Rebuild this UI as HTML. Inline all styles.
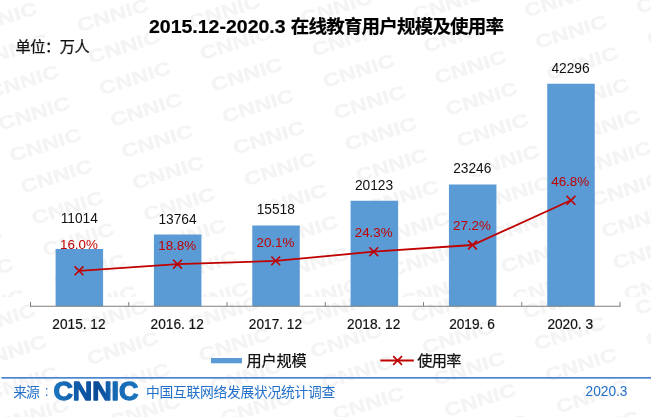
<!DOCTYPE html>
<html lang="zh-CN"><head><meta charset="utf-8"><title>2015.12-2020.3 在线教育用户规模及使用率</title>
<style>html,body{margin:0;padding:0;background:#fff}body{width:651px;height:417px;overflow:hidden}svg{display:block}.wm{font-family:"Liberation Sans",sans-serif;font-weight:bold;font-size:18.5px;fill:#f4f4f4;stroke:#f4f4f4;stroke-width:0.3px}.v{font-family:"Liberation Sans",sans-serif;font-size:13.75px;fill:#111;text-anchor:middle}.r{font-family:"Liberation Sans",sans-serif;font-size:13.4px;fill:#C00000;text-anchor:middle}.x{font-family:"Liberation Sans","Noto Sans CJK SC",sans-serif;font-size:14.1px;fill:#111;stroke:#111;stroke-width:0.2px}.h{font-family:"Liberation Sans","Noto Sans CJK SC",sans-serif;font-size:15.2px;fill:#111;stroke:#111;stroke-width:0.25px}.t{font-family:"Liberation Sans","Noto Sans CJK SC",sans-serif;font-weight:bold;font-size:17.8px;fill:#000;stroke:#000;stroke-width:0.2px}.f{font-family:"Liberation Sans","Noto Sans CJK SC",sans-serif;font-size:13.8px;fill:#2270C8}</style></head><body>
<svg width="651" height="417" viewBox="0 0 651 417">
<defs><linearGradient id="lg" x1="0" y1="0" x2="1" y2="0"><stop offset="0" stop-color="#1B75BF"/><stop offset="0.3" stop-color="#0F5AA8"/><stop offset="0.5" stop-color="#0B4A98"/><stop offset="0.72" stop-color="#1568B4"/><stop offset="1" stop-color="#1B75BF"/></linearGradient></defs>
<rect width="651" height="417" fill="#fff"/>
<defs><clipPath id="ct"><rect x="0" y="0" width="651" height="297"/></clipPath><clipPath id="cb"><rect x="0" y="297" width="651" height="120"/></clipPath></defs>
<g class="wm" clip-path="url(#ct)">
<text transform="translate(-44.4 211.4) rotate(-17.5)" x="-37" y="6.5" textLength="74" lengthAdjust="spacingAndGlyphs">CNNIC</text>
<text transform="translate(-33.4 242.9) rotate(-17.5)" x="-37" y="6.5" textLength="74" lengthAdjust="spacingAndGlyphs">CNNIC</text>
<text transform="translate(-22.3 274.4) rotate(-17.5)" x="-37" y="6.5" textLength="74" lengthAdjust="spacingAndGlyphs">CNNIC</text>
<text transform="translate(-11.2 305.9) rotate(-17.5)" x="-37" y="6.5" textLength="74" lengthAdjust="spacingAndGlyphs">CNNIC</text>
<text transform="translate(-10.0 -12.8) rotate(-17.5)" x="-37" y="6.5" textLength="74" lengthAdjust="spacingAndGlyphs">CNNIC</text>
<text transform="translate(1.0 18.7) rotate(-17.5)" x="-37" y="6.5" textLength="74" lengthAdjust="spacingAndGlyphs">CNNIC</text>
<text transform="translate(12.1 50.2) rotate(-17.5)" x="-37" y="6.5" textLength="74" lengthAdjust="spacingAndGlyphs">CNNIC</text>
<text transform="translate(23.1 81.7) rotate(-17.5)" x="-37" y="6.5" textLength="74" lengthAdjust="spacingAndGlyphs">CNNIC</text>
<text transform="translate(34.2 113.2) rotate(-17.5)" x="-37" y="6.5" textLength="74" lengthAdjust="spacingAndGlyphs">CNNIC</text>
<text transform="translate(45.3 144.7) rotate(-17.5)" x="-37" y="6.5" textLength="74" lengthAdjust="spacingAndGlyphs">CNNIC</text>
<text transform="translate(56.3 176.2) rotate(-17.5)" x="-37" y="6.5" textLength="74" lengthAdjust="spacingAndGlyphs">CNNIC</text>
<text transform="translate(67.4 207.7) rotate(-17.5)" x="-37" y="6.5" textLength="74" lengthAdjust="spacingAndGlyphs">CNNIC</text>
<text transform="translate(78.4 239.2) rotate(-17.5)" x="-37" y="6.5" textLength="74" lengthAdjust="spacingAndGlyphs">CNNIC</text>
<text transform="translate(89.5 270.7) rotate(-17.5)" x="-37" y="6.5" textLength="74" lengthAdjust="spacingAndGlyphs">CNNIC</text>
<text transform="translate(100.6 302.2) rotate(-17.5)" x="-37" y="6.5" textLength="74" lengthAdjust="spacingAndGlyphs">CNNIC</text>
<text transform="translate(101.8 -16.5) rotate(-17.5)" x="-37" y="6.5" textLength="74" lengthAdjust="spacingAndGlyphs">CNNIC</text>
<text transform="translate(112.8 15.0) rotate(-17.5)" x="-37" y="6.5" textLength="74" lengthAdjust="spacingAndGlyphs">CNNIC</text>
<text transform="translate(123.9 46.5) rotate(-17.5)" x="-37" y="6.5" textLength="74" lengthAdjust="spacingAndGlyphs">CNNIC</text>
<text transform="translate(134.9 78.0) rotate(-17.5)" x="-37" y="6.5" textLength="74" lengthAdjust="spacingAndGlyphs">CNNIC</text>
<text transform="translate(146.0 109.5) rotate(-17.5)" x="-37" y="6.5" textLength="74" lengthAdjust="spacingAndGlyphs">CNNIC</text>
<text transform="translate(157.1 141.0) rotate(-17.5)" x="-37" y="6.5" textLength="74" lengthAdjust="spacingAndGlyphs">CNNIC</text>
<text transform="translate(168.1 172.5) rotate(-17.5)" x="-37" y="6.5" textLength="74" lengthAdjust="spacingAndGlyphs">CNNIC</text>
<text transform="translate(179.2 204.0) rotate(-17.5)" x="-37" y="6.5" textLength="74" lengthAdjust="spacingAndGlyphs">CNNIC</text>
<text transform="translate(190.2 235.5) rotate(-17.5)" x="-37" y="6.5" textLength="74" lengthAdjust="spacingAndGlyphs">CNNIC</text>
<text transform="translate(201.3 267.0) rotate(-17.5)" x="-37" y="6.5" textLength="74" lengthAdjust="spacingAndGlyphs">CNNIC</text>
<text transform="translate(212.4 298.5) rotate(-17.5)" x="-37" y="6.5" textLength="74" lengthAdjust="spacingAndGlyphs">CNNIC</text>
<text transform="translate(213.6 -20.2) rotate(-17.5)" x="-37" y="6.5" textLength="74" lengthAdjust="spacingAndGlyphs">CNNIC</text>
<text transform="translate(224.6 11.3) rotate(-17.5)" x="-37" y="6.5" textLength="74" lengthAdjust="spacingAndGlyphs">CNNIC</text>
<text transform="translate(235.7 42.8) rotate(-17.5)" x="-37" y="6.5" textLength="74" lengthAdjust="spacingAndGlyphs">CNNIC</text>
<text transform="translate(246.7 74.3) rotate(-17.5)" x="-37" y="6.5" textLength="74" lengthAdjust="spacingAndGlyphs">CNNIC</text>
<text transform="translate(257.8 105.8) rotate(-17.5)" x="-37" y="6.5" textLength="74" lengthAdjust="spacingAndGlyphs">CNNIC</text>
<text transform="translate(268.9 137.3) rotate(-17.5)" x="-37" y="6.5" textLength="74" lengthAdjust="spacingAndGlyphs">CNNIC</text>
<text transform="translate(279.9 168.8) rotate(-17.5)" x="-37" y="6.5" textLength="74" lengthAdjust="spacingAndGlyphs">CNNIC</text>
<text transform="translate(291.0 200.3) rotate(-17.5)" x="-37" y="6.5" textLength="74" lengthAdjust="spacingAndGlyphs">CNNIC</text>
<text transform="translate(302.0 231.8) rotate(-17.5)" x="-37" y="6.5" textLength="74" lengthAdjust="spacingAndGlyphs">CNNIC</text>
<text transform="translate(313.1 263.3) rotate(-17.5)" x="-37" y="6.5" textLength="74" lengthAdjust="spacingAndGlyphs">CNNIC</text>
<text transform="translate(324.2 294.8) rotate(-17.5)" x="-37" y="6.5" textLength="74" lengthAdjust="spacingAndGlyphs">CNNIC</text>
<text transform="translate(325.4 -23.9) rotate(-17.5)" x="-37" y="6.5" textLength="74" lengthAdjust="spacingAndGlyphs">CNNIC</text>
<text transform="translate(336.4 7.6) rotate(-17.5)" x="-37" y="6.5" textLength="74" lengthAdjust="spacingAndGlyphs">CNNIC</text>
<text transform="translate(347.5 39.1) rotate(-17.5)" x="-37" y="6.5" textLength="74" lengthAdjust="spacingAndGlyphs">CNNIC</text>
<text transform="translate(358.5 70.6) rotate(-17.5)" x="-37" y="6.5" textLength="74" lengthAdjust="spacingAndGlyphs">CNNIC</text>
<text transform="translate(369.6 102.1) rotate(-17.5)" x="-37" y="6.5" textLength="74" lengthAdjust="spacingAndGlyphs">CNNIC</text>
<text transform="translate(380.7 133.6) rotate(-17.5)" x="-37" y="6.5" textLength="74" lengthAdjust="spacingAndGlyphs">CNNIC</text>
<text transform="translate(391.7 165.1) rotate(-17.5)" x="-37" y="6.5" textLength="74" lengthAdjust="spacingAndGlyphs">CNNIC</text>
<text transform="translate(402.8 196.6) rotate(-17.5)" x="-37" y="6.5" textLength="74" lengthAdjust="spacingAndGlyphs">CNNIC</text>
<text transform="translate(413.8 228.1) rotate(-17.5)" x="-37" y="6.5" textLength="74" lengthAdjust="spacingAndGlyphs">CNNIC</text>
<text transform="translate(424.9 259.6) rotate(-17.5)" x="-37" y="6.5" textLength="74" lengthAdjust="spacingAndGlyphs">CNNIC</text>
<text transform="translate(436.0 291.1) rotate(-17.5)" x="-37" y="6.5" textLength="74" lengthAdjust="spacingAndGlyphs">CNNIC</text>
<text transform="translate(448.2 3.9) rotate(-17.5)" x="-37" y="6.5" textLength="74" lengthAdjust="spacingAndGlyphs">CNNIC</text>
<text transform="translate(459.3 35.4) rotate(-17.5)" x="-37" y="6.5" textLength="74" lengthAdjust="spacingAndGlyphs">CNNIC</text>
<text transform="translate(470.3 66.9) rotate(-17.5)" x="-37" y="6.5" textLength="74" lengthAdjust="spacingAndGlyphs">CNNIC</text>
<text transform="translate(481.4 98.4) rotate(-17.5)" x="-37" y="6.5" textLength="74" lengthAdjust="spacingAndGlyphs">CNNIC</text>
<text transform="translate(492.5 129.9) rotate(-17.5)" x="-37" y="6.5" textLength="74" lengthAdjust="spacingAndGlyphs">CNNIC</text>
<text transform="translate(503.5 161.4) rotate(-17.5)" x="-37" y="6.5" textLength="74" lengthAdjust="spacingAndGlyphs">CNNIC</text>
<text transform="translate(514.6 192.9) rotate(-17.5)" x="-37" y="6.5" textLength="74" lengthAdjust="spacingAndGlyphs">CNNIC</text>
<text transform="translate(525.6 224.4) rotate(-17.5)" x="-37" y="6.5" textLength="74" lengthAdjust="spacingAndGlyphs">CNNIC</text>
<text transform="translate(536.7 255.9) rotate(-17.5)" x="-37" y="6.5" textLength="74" lengthAdjust="spacingAndGlyphs">CNNIC</text>
<text transform="translate(547.8 287.4) rotate(-17.5)" x="-37" y="6.5" textLength="74" lengthAdjust="spacingAndGlyphs">CNNIC</text>
<text transform="translate(558.8 318.9) rotate(-17.5)" x="-37" y="6.5" textLength="74" lengthAdjust="spacingAndGlyphs">CNNIC</text>
<text transform="translate(560.0 0.2) rotate(-17.5)" x="-37" y="6.5" textLength="74" lengthAdjust="spacingAndGlyphs">CNNIC</text>
<text transform="translate(571.1 31.7) rotate(-17.5)" x="-37" y="6.5" textLength="74" lengthAdjust="spacingAndGlyphs">CNNIC</text>
<text transform="translate(582.1 63.2) rotate(-17.5)" x="-37" y="6.5" textLength="74" lengthAdjust="spacingAndGlyphs">CNNIC</text>
<text transform="translate(593.2 94.7) rotate(-17.5)" x="-37" y="6.5" textLength="74" lengthAdjust="spacingAndGlyphs">CNNIC</text>
<text transform="translate(604.3 126.2) rotate(-17.5)" x="-37" y="6.5" textLength="74" lengthAdjust="spacingAndGlyphs">CNNIC</text>
<text transform="translate(615.3 157.7) rotate(-17.5)" x="-37" y="6.5" textLength="74" lengthAdjust="spacingAndGlyphs">CNNIC</text>
<text transform="translate(626.4 189.2) rotate(-17.5)" x="-37" y="6.5" textLength="74" lengthAdjust="spacingAndGlyphs">CNNIC</text>
<text transform="translate(637.4 220.7) rotate(-17.5)" x="-37" y="6.5" textLength="74" lengthAdjust="spacingAndGlyphs">CNNIC</text>
<text transform="translate(648.5 252.2) rotate(-17.5)" x="-37" y="6.5" textLength="74" lengthAdjust="spacingAndGlyphs">CNNIC</text>
<text transform="translate(659.6 283.7) rotate(-17.5)" x="-37" y="6.5" textLength="74" lengthAdjust="spacingAndGlyphs">CNNIC</text>
<text transform="translate(670.6 315.2) rotate(-17.5)" x="-37" y="6.5" textLength="74" lengthAdjust="spacingAndGlyphs">CNNIC</text>
<text transform="translate(671.8 -3.5) rotate(-17.5)" x="-37" y="6.5" textLength="74" lengthAdjust="spacingAndGlyphs">CNNIC</text>
<text transform="translate(682.9 28.0) rotate(-17.5)" x="-37" y="6.5" textLength="74" lengthAdjust="spacingAndGlyphs">CNNIC</text>
<text transform="translate(693.9 59.5) rotate(-17.5)" x="-37" y="6.5" textLength="74" lengthAdjust="spacingAndGlyphs">CNNIC</text>
</g>
<g class="wm" clip-path="url(#cb)">
<text transform="translate(-11.3 288.7) rotate(-17.5)" x="-37" y="6.5" textLength="74" lengthAdjust="spacingAndGlyphs">CNNIC</text>
<text transform="translate(-0.3 320.2) rotate(-17.5)" x="-37" y="6.5" textLength="74" lengthAdjust="spacingAndGlyphs">CNNIC</text>
<text transform="translate(10.8 351.7) rotate(-17.5)" x="-37" y="6.5" textLength="74" lengthAdjust="spacingAndGlyphs">CNNIC</text>
<text transform="translate(21.9 383.2) rotate(-17.5)" x="-37" y="6.5" textLength="74" lengthAdjust="spacingAndGlyphs">CNNIC</text>
<text transform="translate(32.9 414.7) rotate(-17.5)" x="-37" y="6.5" textLength="74" lengthAdjust="spacingAndGlyphs">CNNIC</text>
<text transform="translate(100.5 285.0) rotate(-17.5)" x="-37" y="6.5" textLength="74" lengthAdjust="spacingAndGlyphs">CNNIC</text>
<text transform="translate(111.5 316.5) rotate(-17.5)" x="-37" y="6.5" textLength="74" lengthAdjust="spacingAndGlyphs">CNNIC</text>
<text transform="translate(122.6 348.0) rotate(-17.5)" x="-37" y="6.5" textLength="74" lengthAdjust="spacingAndGlyphs">CNNIC</text>
<text transform="translate(133.7 379.5) rotate(-17.5)" x="-37" y="6.5" textLength="74" lengthAdjust="spacingAndGlyphs">CNNIC</text>
<text transform="translate(144.7 411.0) rotate(-17.5)" x="-37" y="6.5" textLength="74" lengthAdjust="spacingAndGlyphs">CNNIC</text>
<text transform="translate(212.3 281.3) rotate(-17.5)" x="-37" y="6.5" textLength="74" lengthAdjust="spacingAndGlyphs">CNNIC</text>
<text transform="translate(223.3 312.8) rotate(-17.5)" x="-37" y="6.5" textLength="74" lengthAdjust="spacingAndGlyphs">CNNIC</text>
<text transform="translate(234.4 344.3) rotate(-17.5)" x="-37" y="6.5" textLength="74" lengthAdjust="spacingAndGlyphs">CNNIC</text>
<text transform="translate(245.5 375.8) rotate(-17.5)" x="-37" y="6.5" textLength="74" lengthAdjust="spacingAndGlyphs">CNNIC</text>
<text transform="translate(256.5 407.3) rotate(-17.5)" x="-37" y="6.5" textLength="74" lengthAdjust="spacingAndGlyphs">CNNIC</text>
<text transform="translate(267.6 438.8) rotate(-17.5)" x="-37" y="6.5" textLength="74" lengthAdjust="spacingAndGlyphs">CNNIC</text>
<text transform="translate(324.1 277.6) rotate(-17.5)" x="-37" y="6.5" textLength="74" lengthAdjust="spacingAndGlyphs">CNNIC</text>
<text transform="translate(335.1 309.1) rotate(-17.5)" x="-37" y="6.5" textLength="74" lengthAdjust="spacingAndGlyphs">CNNIC</text>
<text transform="translate(346.2 340.6) rotate(-17.5)" x="-37" y="6.5" textLength="74" lengthAdjust="spacingAndGlyphs">CNNIC</text>
<text transform="translate(357.3 372.1) rotate(-17.5)" x="-37" y="6.5" textLength="74" lengthAdjust="spacingAndGlyphs">CNNIC</text>
<text transform="translate(368.3 403.6) rotate(-17.5)" x="-37" y="6.5" textLength="74" lengthAdjust="spacingAndGlyphs">CNNIC</text>
<text transform="translate(379.4 435.1) rotate(-17.5)" x="-37" y="6.5" textLength="74" lengthAdjust="spacingAndGlyphs">CNNIC</text>
<text transform="translate(435.9 273.9) rotate(-17.5)" x="-37" y="6.5" textLength="74" lengthAdjust="spacingAndGlyphs">CNNIC</text>
<text transform="translate(446.9 305.4) rotate(-17.5)" x="-37" y="6.5" textLength="74" lengthAdjust="spacingAndGlyphs">CNNIC</text>
<text transform="translate(458.0 336.9) rotate(-17.5)" x="-37" y="6.5" textLength="74" lengthAdjust="spacingAndGlyphs">CNNIC</text>
<text transform="translate(469.1 368.4) rotate(-17.5)" x="-37" y="6.5" textLength="74" lengthAdjust="spacingAndGlyphs">CNNIC</text>
<text transform="translate(480.1 399.9) rotate(-17.5)" x="-37" y="6.5" textLength="74" lengthAdjust="spacingAndGlyphs">CNNIC</text>
<text transform="translate(491.2 431.4) rotate(-17.5)" x="-37" y="6.5" textLength="74" lengthAdjust="spacingAndGlyphs">CNNIC</text>
<text transform="translate(558.7 301.7) rotate(-17.5)" x="-37" y="6.5" textLength="74" lengthAdjust="spacingAndGlyphs">CNNIC</text>
<text transform="translate(569.8 333.2) rotate(-17.5)" x="-37" y="6.5" textLength="74" lengthAdjust="spacingAndGlyphs">CNNIC</text>
<text transform="translate(580.9 364.7) rotate(-17.5)" x="-37" y="6.5" textLength="74" lengthAdjust="spacingAndGlyphs">CNNIC</text>
<text transform="translate(591.9 396.2) rotate(-17.5)" x="-37" y="6.5" textLength="74" lengthAdjust="spacingAndGlyphs">CNNIC</text>
<text transform="translate(603.0 427.7) rotate(-17.5)" x="-37" y="6.5" textLength="74" lengthAdjust="spacingAndGlyphs">CNNIC</text>
<text transform="translate(670.5 298.0) rotate(-17.5)" x="-37" y="6.5" textLength="74" lengthAdjust="spacingAndGlyphs">CNNIC</text>
<text transform="translate(681.6 329.5) rotate(-17.5)" x="-37" y="6.5" textLength="74" lengthAdjust="spacingAndGlyphs">CNNIC</text>
<text transform="translate(692.7 361.0) rotate(-17.5)" x="-37" y="6.5" textLength="74" lengthAdjust="spacingAndGlyphs">CNNIC</text>
</g>
<text class="t" x="149" y="32.6" style="font-size:19px" textLength="142" lengthAdjust="spacingAndGlyphs" xml:space="preserve">2015.12-2020.3 </text>
<text class="t" x="290.8" y="33.1" style="font-size:18.5px" textLength="213.2" lengthAdjust="spacing">在线教育用户规模及使用率</text>
<text class="h" x="15.6" y="52.2" textLength="74.2" lengthAdjust="spacing">单位：万人</text>
<rect x="55.60" y="249.00" width="47.50" height="57.25" fill="#5B9BD5"/>
<rect x="153.93" y="234.50" width="47.50" height="71.75" fill="#5B9BD5"/>
<rect x="252.26" y="225.50" width="47.50" height="80.75" fill="#5B9BD5"/>
<rect x="350.59" y="200.75" width="47.50" height="105.50" fill="#5B9BD5"/>
<rect x="448.92" y="184.50" width="47.50" height="121.75" fill="#5B9BD5"/>
<rect x="547.25" y="83.75" width="47.50" height="222.50" fill="#5B9BD5"/>
<path d="M30.00 306.25 H620.50" stroke="#7f7f7f" stroke-width="1" fill="none"/>
<path d="M30.50 306.25 v-4.2 M128.75 306.25 v-4.2 M227.00 306.25 v-4.2 M325.25 306.25 v-4.2 M423.50 306.25 v-4.2 M521.75 306.25 v-4.2 M620.00 306.25 v-4.2 " stroke="#7f7f7f" stroke-width="1" fill="none"/>
<polyline points="79.00,270.80 177.50,264.20 275.75,260.90 373.75,251.70 472.50,245.00 571.00,200.30" fill="none" stroke="#C00000" stroke-width="1.8"/>
<path d="M74.60 266.40 l8.80 8.80 M74.60 275.20 l8.80 -8.80 M173.10 259.80 l8.80 8.80 M173.10 268.60 l8.80 -8.80 M271.35 256.50 l8.80 8.80 M271.35 265.30 l8.80 -8.80 M369.35 247.30 l8.80 8.80 M369.35 256.10 l8.80 -8.80 M468.10 240.60 l8.80 8.80 M468.10 249.40 l8.80 -8.80 M566.60 195.90 l8.80 8.80 M566.60 204.70 l8.80 -8.80 " stroke="#C00000" stroke-width="1.6" fill="none"/>
<text class="v" x="79.25" y="223.10">11014</text>
<text class="v" x="177.50" y="223.70">13764</text>
<text class="v" x="275.75" y="214.00">15518</text>
<text class="v" x="374.00" y="190.00">20123</text>
<text class="v" x="472.25" y="173.20">23246</text>
<text class="v" x="570.50" y="73.00">42296</text>
<text class="r" x="78.95" y="249.20">16.0%</text>
<text class="r" x="177.20" y="249.80">18.8%</text>
<text class="r" x="275.45" y="247.20">20.1%</text>
<text class="r" x="373.70" y="236.70">24.3%</text>
<text class="r" x="471.95" y="229.70">27.2%</text>
<text class="r" x="570.20" y="186.40">46.8%</text>
<text class="x" x="52.35" y="328.6" textLength="53.20" lengthAdjust="spacingAndGlyphs" xml:space="preserve">2015. 12</text>
<text class="x" x="150.60" y="328.6" textLength="53.20" lengthAdjust="spacingAndGlyphs" xml:space="preserve">2016. 12</text>
<text class="x" x="248.85" y="328.6" textLength="53.20" lengthAdjust="spacingAndGlyphs" xml:space="preserve">2017. 12</text>
<text class="x" x="347.10" y="328.6" textLength="53.20" lengthAdjust="spacingAndGlyphs" xml:space="preserve">2018. 12</text>
<text class="x" x="449.15" y="328.6" textLength="45.60" lengthAdjust="spacingAndGlyphs" xml:space="preserve">2019. 6</text>
<text class="x" x="547.40" y="328.6" textLength="45.60" lengthAdjust="spacingAndGlyphs" xml:space="preserve">2020. 3</text>
<rect x="211" y="358" width="31" height="5.3" fill="#5B9BD5"/>
<text class="h" x="246.6" y="366.2" textLength="60.2" lengthAdjust="spacing">用户规模</text>
<path d="M380.4 360.5 H413.8" stroke="#C00000" stroke-width="1.8"/>
<path d="M393.20 356.10 l8.80 8.80 M393.20 364.90 l8.80 -8.80" stroke="#C00000" stroke-width="1.6" fill="none"/>
<text class="h" x="417.3" y="366.2" textLength="44.2" lengthAdjust="spacing">使用率</text>
<rect x="1.4" y="377.0" width="649.6" height="1.7" fill="#4A86D0"/>
<text class="f" x="13.2" y="396.7" textLength="26.6" lengthAdjust="spacing">来源</text>
<text class="f" x="44.8" y="396.2">:</text>
<text x="53.4" y="400.2" textLength="85" lengthAdjust="spacingAndGlyphs" style="font-family:'Liberation Sans',sans-serif;font-weight:bold;font-size:26.4px" fill="url(#lg)" stroke="url(#lg)" stroke-width="1.3" stroke-linejoin="round">CNNIC</text>
<text class="f" x="146.0" y="396.6" textLength="189.3" lengthAdjust="spacing">中国互联网络发展状况统计调查</text>
<text class="f" x="585.5" y="396.3" textLength="42" lengthAdjust="spacingAndGlyphs" style="font-size:14.67px">2020.3</text>
</svg></body></html>
